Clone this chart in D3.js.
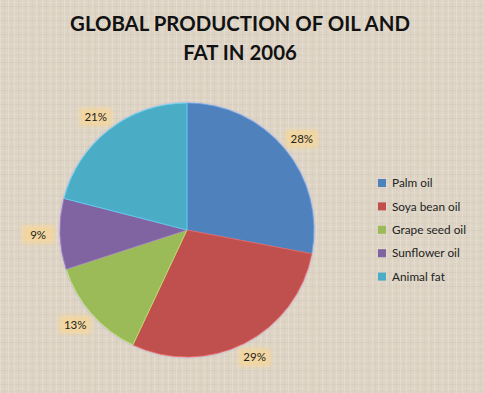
<!DOCTYPE html>
<html><head><meta charset="utf-8">
<script src="https://cdn.jsdelivr.net/npm/d3@7"></script>
<style>html,body{margin:0;padding:0;background:#dcd3c4}svg{display:block}</style>
</head><body>
<script>
const categories = ["Palm oil","Soya bean oil","Grape seed oil","Sunflower oil","Animal fat"];
const values = [28, 29, 13, 9, 21];
const colors = ["#4F81BD","#C0504D","#9BBB59","#8064A2","#4BACC6"];
const titleLines = ["GLOBAL PRODUCTION OF OIL AND","FAT IN 2006"];

const W = 484, H = 393;
const svg = d3.select("body").append("svg").attr("width", W).attr("height", H);
const defs = svg.append("defs");

// linen-like texture
const pat = defs.append("pattern").attr("id","linen").attr("patternUnits","userSpaceOnUse")
  .attr("width",14).attr("height",14);
pat.append("rect").attr("width",14).attr("height",14).attr("fill","#ddd4c5");
[[0,"#e9e2d6"],[4,"#d3c9b9"],[8,"#e6dfd2"],[11,"#d6ccbc"]].forEach(([p,c])=>{
  pat.append("rect").attr("x",p).attr("y",0).attr("width",1).attr("height",14).attr("fill",c).attr("opacity",0.55);
  pat.append("rect").attr("y",p+2).attr("x",0).attr("height",1).attr("width",14).attr("fill",c).attr("opacity",0.4);
});
svg.append("rect").attr("width",W).attr("height",H).attr("fill","url(#linen)");

const blur = defs.append("filter").attr("id","glow").attr("x","-30%").attr("y","-50%").attr("width","160%").attr("height","200%");
blur.append("feGaussianBlur").attr("stdDeviation",2);

// title
svg.append("g").selectAll("text").data(titleLines).join("text")
  .attr("x", 240).attr("y",(d,i)=>31+i*29)
  .attr("text-anchor","middle")
  .attr("font-family","Lato, 'Open Sans', sans-serif").attr("font-weight","bold")
  .attr("font-size",20.4).attr("fill","#111")
  .text(d=>d);

const cx = 187, cy = 230, R = 127;
const pie = d3.pie().sort(null).value(d=>d)(values);
const arc = d3.arc().innerRadius(0).outerRadius(R);
const g = svg.append("g").attr("transform",`translate(${cx},${cy})`);
g.append("circle").attr("r",R+1).attr("fill","none").attr("stroke","#c8c0d8").attr("stroke-width",1.5).attr("opacity",0.6);
g.selectAll("path").data(pie).join("path")
  .attr("d",arc).attr("fill",(d,i)=>colors[i])
  .attr("stroke",(d,i)=>d3.color(colors[i]).brighter(0.6)).attr("stroke-width",0.8);

// labels: box corner anchored just outside the pie edge
const r0 = 136, hw = 13, hh = 7;
const lg = g.selectAll("g.lab").data(pie).join("g").attr("class","lab")
  .attr("transform",d=>{
    const a = (d.startAngle + d.endAngle)/2;
    const s = Math.sin(a), c = Math.cos(a);
    const x = r0*s + hw*s, y = -r0*c - hh*c;
    return `translate(${x},${y})`;
  });
lg.append("rect").attr("x",-16).attr("y",-9).attr("width",32).attr("height",18)
  .attr("fill","#f6d79a").attr("opacity",0.85).attr("filter","url(#glow)");
lg.append("text").attr("text-anchor","middle").attr("dy","0.35em")
  .attr("font-family","Lato, 'Open Sans', sans-serif").attr("font-size",11.5).attr("fill","#222")
  .text(d=>d.data+"%");

// legend
const leg = svg.append("g").selectAll("g").data(categories).join("g")
  .attr("transform",(d,i)=>`translate(378,${183+i*23.4})`);
leg.append("rect").attr("x",0).attr("y",-4).attr("width",8).attr("height",8).attr("fill",(d,i)=>colors[i]);
leg.append("text").attr("x",14).attr("dy","0.35em")
  .attr("font-family","Lato, 'Open Sans', sans-serif").attr("font-size",11.8).attr("fill","#222")
  .text(d=>d);
</script>
</body></html>
